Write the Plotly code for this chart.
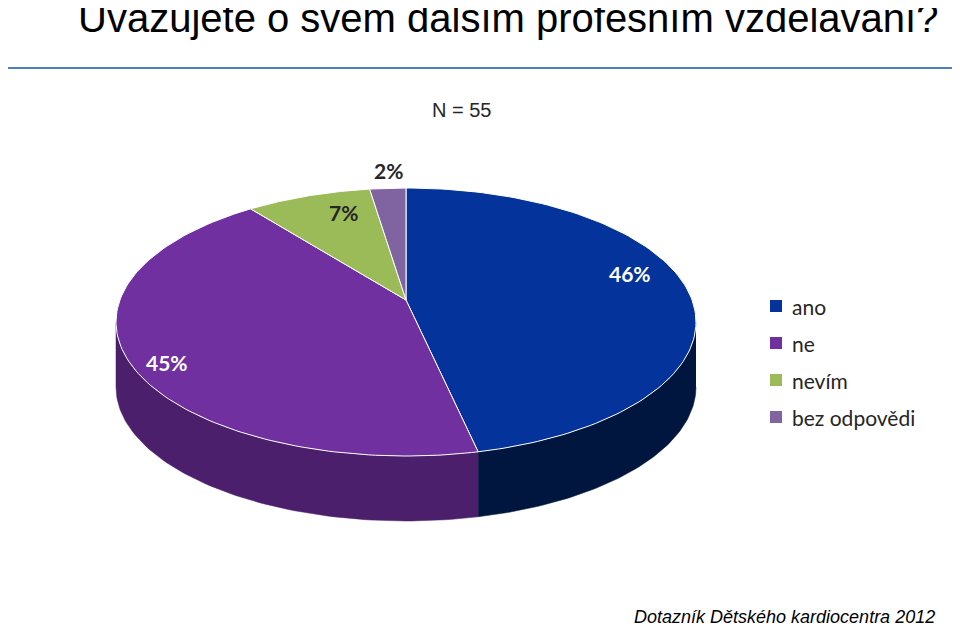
import numpy as np
import plotly.graph_objects as go

labels = ["ano", "ne", "nevím", "bez odpovědi"]
values = [46, 45, 7, 2]
top_colors = ["#03339B", "#7030A0", "#9BBB59", "#8064A2"]
side_colors = ["#00163F", "#4B1F6B", "#66803A", "#574470"]

cx, cy, rx, ry, depth = 406, 322, 290, 134, 65

def pt(theta, dy=0):
    return cx + rx * np.sin(theta), cy - ry * np.cos(theta) + dy

fig = go.Figure()
total = sum(values)
bounds = np.cumsum([0] + values) / total * 2 * np.pi

# side walls (front half only)
for i in range(len(values)):
    a0, a1 = max(bounds[i], np.pi / 2), min(bounds[i + 1], 1.5 * np.pi)
    if a1 <= a0:
        continue
    t = np.linspace(a0, a1, 80)
    x1, y1 = pt(t)
    x2, y2 = pt(t[::-1], depth)
    fig.add_trace(go.Scatter(x=np.r_[x1, x2], y=np.r_[y1, y2], fill="toself", mode="lines",
                             line=dict(width=0.5, color=side_colors[i]), fillcolor=side_colors[i],
                             hoverinfo="skip", showlegend=False))

# top faces
for i in range(len(values)):
    t = np.linspace(bounds[i], bounds[i + 1], 120)
    x, y = pt(t)
    fig.add_trace(go.Scatter(x=np.r_[cx, x, cx], y=np.r_[300, y, 300],
                             fill="toself", mode="lines", line=dict(width=1, color="white"),
                             fillcolor=top_colors[i], name=labels[i], showlegend=False))

label_pos = [(630, 273), (167, 362), (343, 212), (388, 170)]
for (x, y), v in zip(label_pos, values):
    fig.add_annotation(x=x, y=y, text=f"<b>{v}%</b>", showarrow=False,
                       font=dict(size=21, color="white" if v > 10 else "#262626", family="Lato"))

# legend
for i, lab in enumerate(labels):
    y = 306 + 37 * i
    fig.add_shape(type="rect", x0=770, x1=782, y0=y - 6, y1=y + 6, fillcolor=top_colors[i], line_width=0)
    fig.add_annotation(x=790, y=y, text=lab, showarrow=False, xanchor="left",
                       font=dict(size=21, color="#262626", family="Lato"))

fig.add_shape(type="line", x0=4, x1=958, y0=68, y1=68, line=dict(color="#4F81BD", width=2))
fig.add_annotation(x=76, y=18, text="Uvažujete o svém dalším profesním vzdělávání?", showarrow=False,
                   xanchor="left", font=dict(size=40, color="black", family="Liberation Sans"))
fig.add_annotation(x=461, y=110, text="N = 55", showarrow=False,
                   font=dict(size=20, color="#262626", family="Liberation Sans"))
fig.add_annotation(x=937, y=617, text="<i>Dotazník Dětského kardiocentra 2012</i>", showarrow=False,
                   xanchor="right", font=dict(size=18, color="black", family="Liberation Sans"))

fig.update_layout(
    width=960, height=628, margin=dict(l=0, r=0, t=0, b=0),
    plot_bgcolor="white", paper_bgcolor="white", showlegend=False,
    xaxis=dict(range=[8, 968], visible=False, fixedrange=True),
    yaxis=dict(range=[636, 8], visible=False, fixedrange=True),
)
fig.write_html("out.html")
